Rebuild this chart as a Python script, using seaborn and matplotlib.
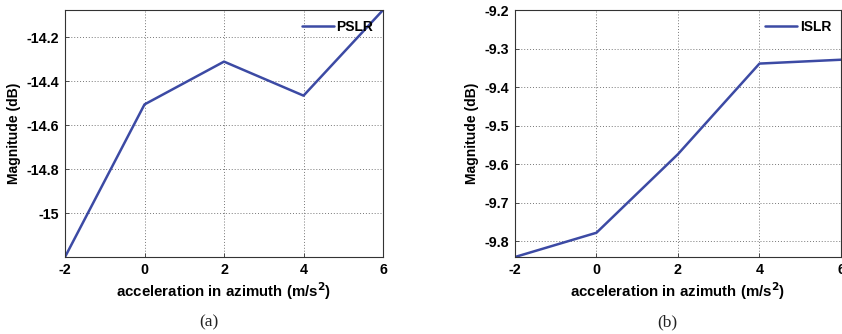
import matplotlib
matplotlib.use("Agg")
import matplotlib.pyplot as plt
import seaborn as sns
import pandas as pd

accel = [-2, 0, 2, 4, 6]
pslr = [-15.20, -14.505, -14.31, -14.465, -14.075]
islr = [-9.841, -9.778, -9.574, -9.339, -9.329]
pslr_yticks = [-15.0, -14.8, -14.6, -14.4, -14.2]
pslr_yticklabels = ["-15", "-14.8", "-14.6", "-14.4", "-14.2"]
islr_yticks = [-9.8, -9.7, -9.6, -9.5, -9.4, -9.3, -9.2]
islr_yticklabels = ["-9.8", "-9.7", "-9.6", "-9.5", "-9.4", "-9.3", "-9.2"]
xticks = [-2, 0, 2, 4, 6]

sns.set_style("ticks")
plt.rcParams['font.family'] = ['Liberation Sans', 'DejaVu Sans']
plt.rcParams['text.color'] = 'black'
plt.rcParams['axes.labelcolor'] = 'black'
plt.rcParams['xtick.color'] = 'black'
plt.rcParams['ytick.color'] = 'black'

LINE_COLOR = "#3c4aa4"
fig = plt.figure(figsize=(8.42, 3.34), dpi=100)

def panel(rect, y, name, ylim, yt, ytl, caption, cap_x):
    ax = fig.add_axes(rect)
    df = pd.DataFrame({"x": accel, "y": y, "s": name})
    sns.lineplot(data=df, x="x", y="y", hue="s", palette=[LINE_COLOR], ax=ax,
                 linewidth=1.8, legend=True)
    ax.set_xlim(-2, 6)
    ax.set_ylim(*ylim)
    ax.set_xticks(xticks)
    ax.set_xticklabels([str(v) for v in xticks])
    ax.set_yticks(yt)
    ax.set_yticklabels(ytl)
    ax.grid(True, linestyle=(0, (1, 2)), color="#777777", linewidth=0.7)
    ax.tick_params(direction="in", length=3, width=0.6, labelsize=10.3, pad=4,
                   color="#333333", labelcolor="black")
    for lab in ax.get_xticklabels() + ax.get_yticklabels():
        lab.set_fontweight("bold")
    for s in ax.spines.values():
        s.set_color("#333333")
        s.set_linewidth(0.8)
    ax.set_xlabel("acceleration in azimuth (m/s$^\\mathbf{2}$)", fontsize=10.8,
                  fontweight="bold", labelpad=3, color="black")
    ax.set_ylabel("Magnitude (dB)", fontsize=10, fontweight="bold", labelpad=4,
                  color="black")
    leg = ax.legend(loc="upper right", frameon=False, handlelength=2.3,
                    handletextpad=0.2, borderaxespad=0.3, fontsize=10)
    for t in leg.get_texts():
        t.set_fontweight("bold")
        t.set_color("black")
    fig.text(cap_x, 1 - 322 / 334, caption, ha="center", va="center",
             fontsize=12.5, family="Liberation Serif", color="#222222")
    return ax

panel([0.0772, 0.2305, 0.3777, 0.7395], pslr, "PSLR", (-15.2, -14.075),
      pslr_yticks, pslr_yticklabels, "(a)", 208.5 / 842)
panel([0.6116, 0.2305, 0.3872, 0.7395], islr, "ISLR", (-9.841, -9.2),
      islr_yticks, islr_yticklabels, "(b)", 667 / 842)

fig.savefig("out.png", dpi=100)
